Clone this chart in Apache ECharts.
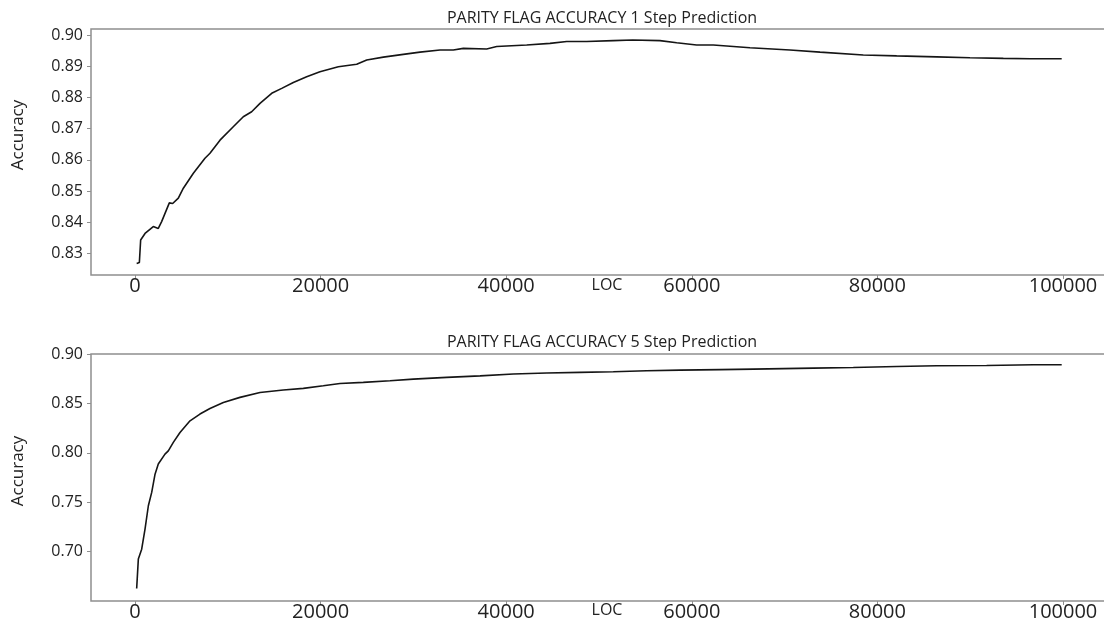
<!DOCTYPE html>
<html>
<head>
<meta charset="utf-8">
<script src="https://cdn.jsdelivr.net/npm/echarts@6/dist/echarts.min.js"></script>
<style>
  html, body { margin: 0; padding: 0; background: #fff; }
  #chart { width: 1104px; height: 628px; }
</style>
</head>
<body>
<div id="chart"></div>
<script>
// Parity-flag accuracy against lines of code (LOC)
const locTick = [0, 20000, 40000, 60000, 80000, 100000];

// 1-step prediction
const loc1 = [180, 470, 610, 1080, 1970, 2510, 2870, 3700, 4060, 4670, 5210, 6290, 7540, 8080, 9160, 10590, 11670, 12570, 13470, 14730, 15810, 17060, 18500, 19930, 21910, 23890, 24970, 26760, 28910, 30710, 32870, 34300, 35380, 37900, 38980, 42210, 44720, 46520, 48670, 51540, 53640, 56570, 58370, 60520, 62320, 64120, 66270, 70580, 73820, 78480, 82080, 86390, 89980, 93570, 96440, 99860];
const acc1 = [0.8268, 0.8271, 0.8343, 0.8364, 0.8386, 0.8380, 0.8402, 0.8462, 0.8460, 0.8477, 0.8509, 0.8557, 0.8605, 0.8621, 0.8663, 0.8706, 0.8738, 0.8754, 0.8781, 0.8813, 0.8829, 0.8848, 0.8866, 0.8882, 0.8898, 0.8906, 0.8920, 0.8929, 0.8938, 0.8945, 0.8952, 0.8952, 0.8957, 0.8955, 0.8963, 0.8968, 0.8973, 0.8979, 0.8979, 0.8982, 0.8984, 0.8982, 0.8975, 0.8968, 0.8968, 0.8964, 0.8959, 0.8952, 0.8945, 0.8936, 0.8933, 0.8930, 0.8927, 0.8925, 0.8924, 0.8924];
const accTick1 = [0.83, 0.84, 0.85, 0.86, 0.87, 0.88, 0.89, 0.90];

// 5-step prediction
const loc5 = [180, 360, 720, 1080, 1440, 1800, 2160, 2510, 3230, 3590, 4130, 4850, 5930, 7000, 8080, 9520, 11310, 13470, 15980, 18140, 20290, 22090, 24600, 27480, 29990, 33590, 37180, 40770, 44360, 47950, 51540, 55140, 58730, 63040, 66630, 73090, 77400, 82080, 86390, 91770, 96800, 99860];
const acc5 = [0.6627, 0.6924, 0.7025, 0.7228, 0.7464, 0.7599, 0.7784, 0.7886, 0.7987, 0.8020, 0.8105, 0.8206, 0.8324, 0.8392, 0.8449, 0.8510, 0.8561, 0.8611, 0.8635, 0.8652, 0.8678, 0.8702, 0.8713, 0.8729, 0.8746, 0.8763, 0.8779, 0.8797, 0.8807, 0.8814, 0.8820, 0.8830, 0.8837, 0.8842, 0.8847, 0.8857, 0.8864, 0.8874, 0.8881, 0.8884, 0.8891, 0.8891];
const accTick5 = [0.70, 0.75, 0.80, 0.85, 0.90];

const titles = ['PARITY FLAG ACCURACY 1 Step Prediction', 'PARITY FLAG ACCURACY 5 Step Prediction'];

const FONT = '"Open Sans", "Noto Sans", sans-serif';
const AXIS_GREY = '#8f8f8f';
const TEXT = '#222';

function pairs(xs, ys) { return xs.map((x, i) => [x, ys[i]]); }

function xAxisFor(gridIndex) {
  return {
    type: 'value', gridIndex,
    min: -4741, max: 105496,
    axisLine: { show: false, onZero: false },
    splitLine: { show: false },
    axisTick: { show: true, customValues: locTick, length: 4, inside: false, lineStyle: { color: AXIS_GREY, width: 1 } },
    axisLabel: { customValues: locTick, margin: 1, fontSize: 20, fontFamily: FONT, color: TEXT, formatter: v => String(v) }
  };
}

function yAxisFor(gridIndex, min, max, ticks) {
  return {
    type: 'value', gridIndex, min, max,
    axisLine: { show: false, onZero: false },
    splitLine: { show: false },
    axisTick: { show: true, customValues: ticks, length: 4, lineStyle: { color: AXIS_GREY, width: 1 } },
    axisLabel: { customValues: ticks, margin: 8, fontSize: 16, fontFamily: FONT, color: TEXT, formatter: v => v.toFixed(2) }
  };
}

// plot frames run past the right edge of the canvas
const gridStyle = {
  show: true, borderColor: AXIS_GREY, borderWidth: 1.5, backgroundColor: 'transparent',
  containLabel: false, outerBoundsMode: 'none'
};

const lineStyle = { color: '#151515', width: 1.6 };

const chart = echarts.init(document.getElementById('chart'), null, { renderer: 'canvas' });
chart.setOption({
  animation: false,
  backgroundColor: '#fff',
  grid: [
    Object.assign({ left: 91, top: 29, height: 246, width: 1023 }, gridStyle),
    Object.assign({ left: 91, top: 354, height: 247, width: 1023 }, gridStyle)
  ],
  xAxis: [xAxisFor(0), xAxisFor(1)],
  yAxis: [
    yAxisFor(0, 0.82308, 0.90192, accTick1),
    yAxisFor(1, 0.65, 0.90, accTick5)
  ],
  series: [
    { type: 'line', xAxisIndex: 0, yAxisIndex: 0, data: pairs(loc1, acc1), showSymbol: false, lineStyle },
    { type: 'line', xAxisIndex: 1, yAxisIndex: 1, data: pairs(loc5, acc5), showSymbol: false, lineStyle }
  ],
  graphic: [
    { type: 'text', x: 602, y: 18, style: { text: titles[0], font: '16px ' + FONT, fill: TEXT, align: 'center', verticalAlign: 'middle' } },
    { type: 'text', x: 602, y: 342, style: { text: titles[1], font: '16px ' + FONT, fill: TEXT, align: 'center', verticalAlign: 'middle' } },
    { type: 'text', x: 607, y: 285, style: { text: 'LOC', font: '16px ' + FONT, fill: TEXT, align: 'center', verticalAlign: 'middle' } },
    { type: 'text', x: 607, y: 610, style: { text: 'LOC', font: '16px ' + FONT, fill: TEXT, align: 'center', verticalAlign: 'middle' } },
    { type: 'text', x: 18, y: 135, rotation: Math.PI / 2, style: { text: 'Accuracy', font: '17px ' + FONT, fill: TEXT, align: 'center', verticalAlign: 'middle' } },
    { type: 'text', x: 18, y: 471, rotation: Math.PI / 2, style: { text: 'Accuracy', font: '17px ' + FONT, fill: TEXT, align: 'center', verticalAlign: 'middle' } }
  ]
});
</script>
</body>
</html>
